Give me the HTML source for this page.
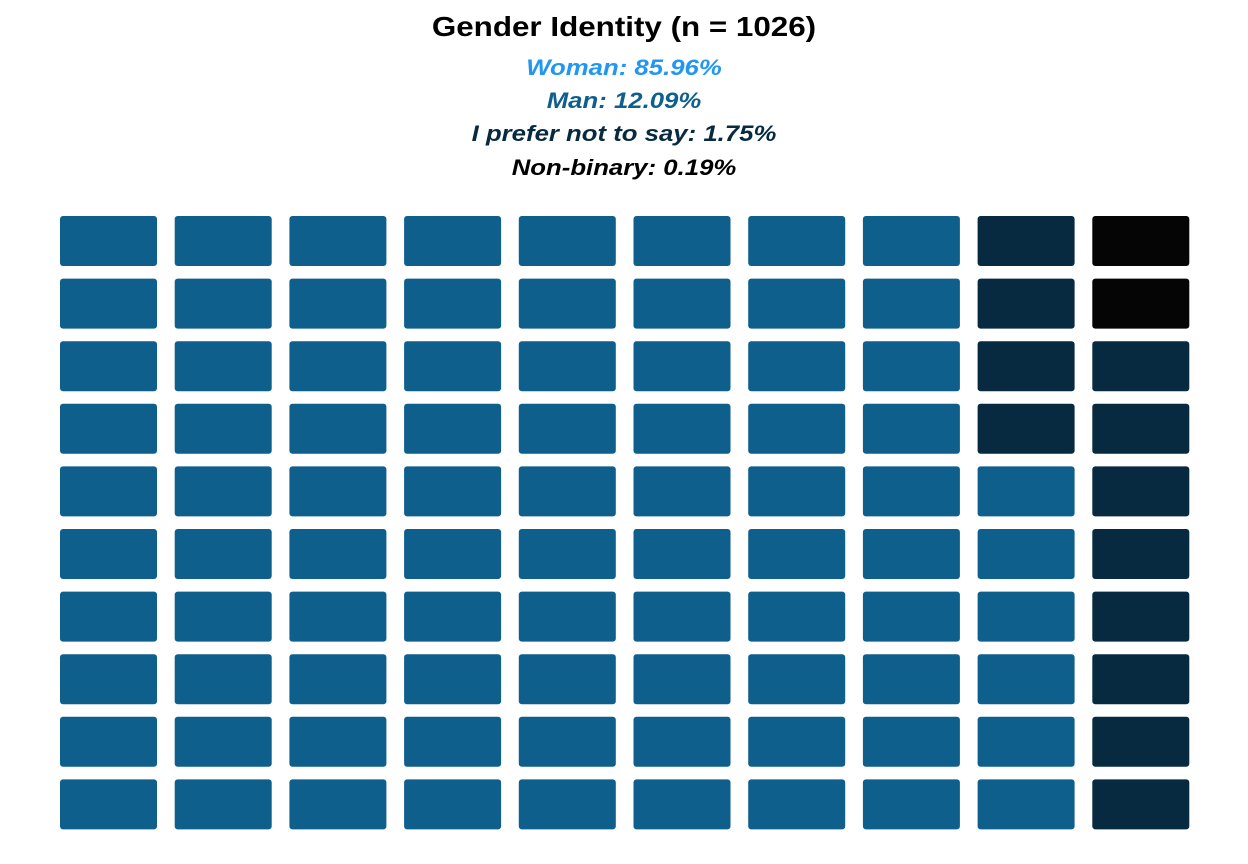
<!DOCTYPE html>
<html><head><meta charset="utf-8"><style>
body{margin:0;background:#fff;width:1248px;height:864px;overflow:hidden;font-family:"Liberation Sans",sans-serif;}
.t{position:absolute;left:0;width:1248px;text-align:center;font-weight:bold;transform-origin:624px 0;}
.s{font-style:italic;font-size:22px;transform:scaleX(1.17);}
</style></head><body>
<div class="t" style="top:11px;font-size:28px;color:#000;transform:scaleX(1.12)">Gender Identity (n = 1026)</div>
<div class="t s" style="top:55px;color:#2196f3">Woman: 85.96%</div>
<div class="t s" style="top:88px;color:#0e5f8c">Man: 12.09%</div>
<div class="t s" style="top:121px;color:#072a40">I prefer not to say: 1.75%</div>
<div class="t s" style="top:155px;color:#000">Non-binary: 0.19%</div>
<svg id="w" width="1248" height="864" style="position:absolute;left:0;top:0"></svg>
<script>
const categories=["Woman","Man","I prefer not to say"];
const tileCounts=[86,12,2];
const tileColors=["#0e5f8c","#072a40","#050505"];
const svg=document.getElementById('w');
const cols=10,rows=10,x0=60,y0=216,pw=114.7,ph=62.6,tw=97,th=50;
let idx=0;
const seq=[];
tileCounts.forEach((c,i)=>{for(let k=0;k<c;k++)seq.push(i);});
for(let c=0;c<cols;c++){for(let r=rows-1;r>=0;r--){
  const cat=seq[idx++];if(cat===undefined)continue;
  const rect=document.createElementNS('http://www.w3.org/2000/svg','rect');
  rect.setAttribute('x',x0+c*pw);rect.setAttribute('y',y0+r*ph);
  rect.setAttribute('width',tw);rect.setAttribute('height',th);
  rect.setAttribute('rx',3);rect.setAttribute('fill',tileColors[cat]);
  
  
  svg.appendChild(rect);
}}
</script>
</body></html>
